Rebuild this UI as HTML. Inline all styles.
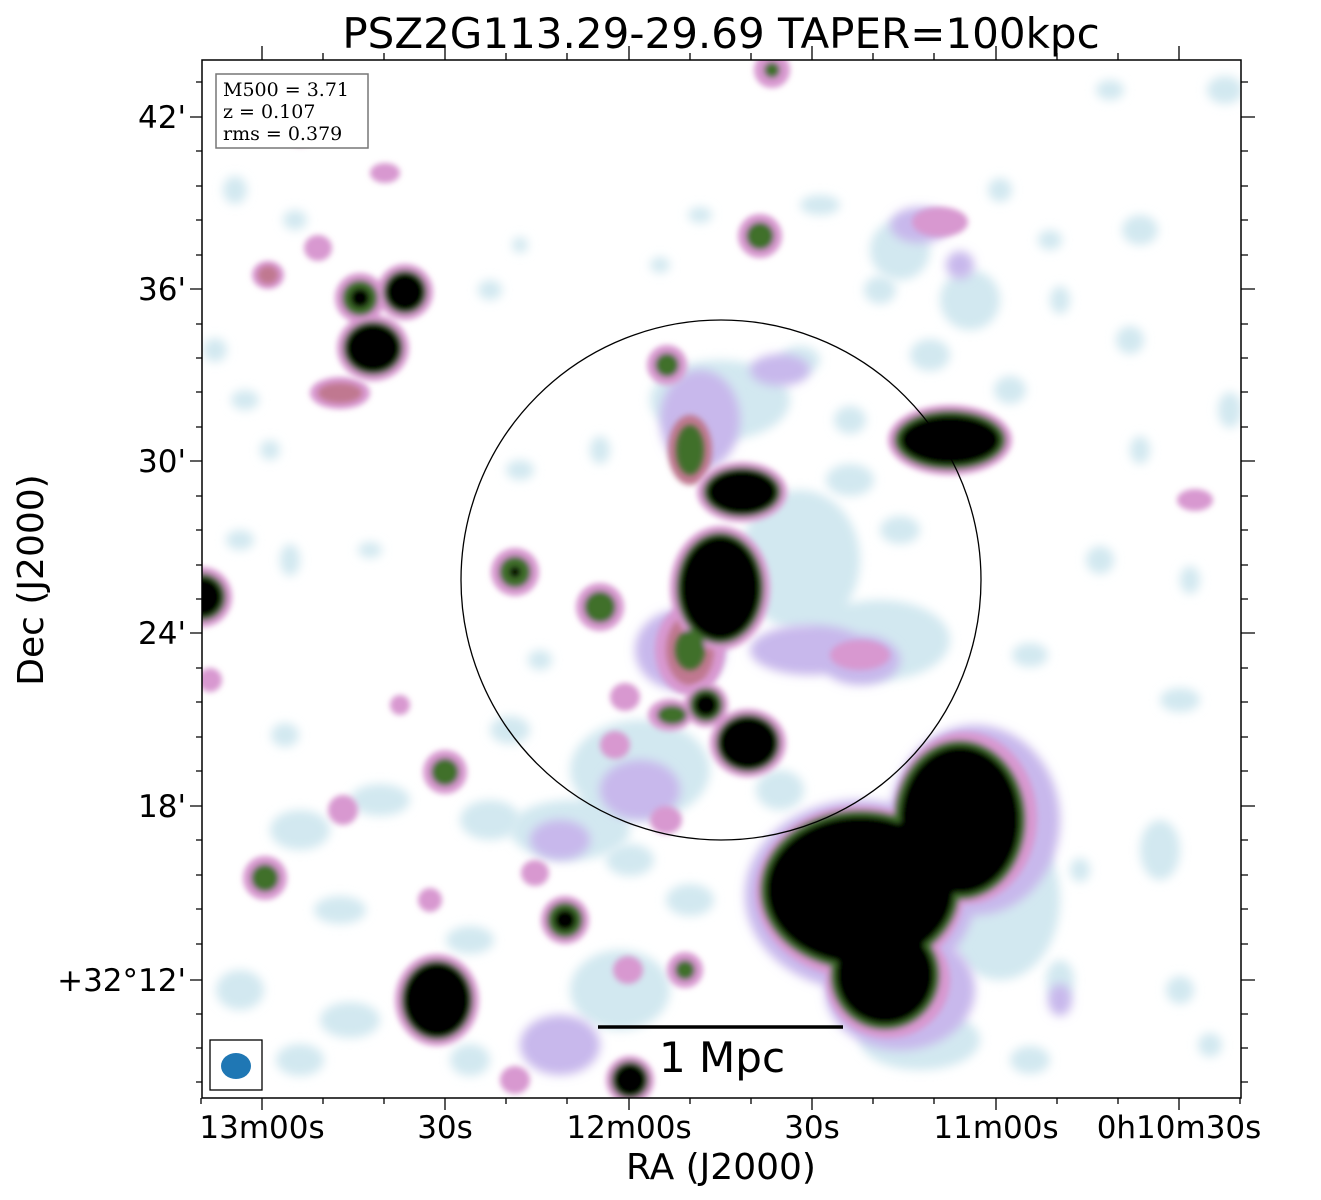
<!DOCTYPE html>
<html><head><meta charset="utf-8"><style>
body{margin:0;background:#fff;}
svg{display:block;font-family:"DejaVu Sans","Liberation Sans",sans-serif;}
</style></head><body>
<svg width="1321" height="1200" viewBox="0 0 1321 1200" xmlns="http://www.w3.org/2000/svg">
<defs>
<filter id="b1" x="-50%" y="-50%" width="200%" height="200%"><feGaussianBlur stdDeviation="5"/></filter>
<filter id="b2" x="-50%" y="-50%" width="200%" height="200%"><feGaussianBlur stdDeviation="3"/></filter>
<clipPath id="c"><rect x="202" y="60" width="1039" height="1038"/></clipPath>
</defs>
<rect width="1321" height="1200" fill="#fff"/>
<g clip-path="url(#c)">
<g filter="url(#b1)" fill="#d2e8f0">
<ellipse cx="820" cy="205" rx="20" ry="10"/><ellipse cx="1000" cy="190" rx="12" ry="12"/><ellipse cx="1140" cy="230" rx="18" ry="15"/>
<ellipse cx="1225" cy="90" rx="18" ry="14"/><ellipse cx="1110" cy="90" rx="14" ry="10"/><ellipse cx="1050" cy="240" rx="12" ry="10"/>
<ellipse cx="1010" cy="390" rx="16" ry="14"/><ellipse cx="1130" cy="340" rx="14" ry="14"/><ellipse cx="1230" cy="410" rx="12" ry="18"/>
<ellipse cx="1140" cy="450" rx="10" ry="14"/><ellipse cx="1100" cy="560" rx="14" ry="14"/><ellipse cx="1190" cy="580" rx="10" ry="14"/>
<ellipse cx="1030" cy="655" rx="18" ry="12"/><ellipse cx="1180" cy="700" rx="20" ry="12"/><ellipse cx="1160" cy="850" rx="20" ry="30"/>
<ellipse cx="1080" cy="870" rx="10" ry="12"/><ellipse cx="1180" cy="990" rx="14" ry="14"/><ellipse cx="1060" cy="980" rx="14" ry="20"/>
<ellipse cx="1030" cy="1060" rx="20" ry="14"/><ellipse cx="1210" cy="1045" rx="12" ry="12"/><ellipse cx="490" cy="290" rx="12" ry="10"/>
<ellipse cx="520" cy="245" rx="8" ry="8"/><ellipse cx="660" cy="265" rx="10" ry="8"/><ellipse cx="700" cy="215" rx="12" ry="8"/>
<ellipse cx="235" cy="190" rx="12" ry="14"/><ellipse cx="295" cy="220" rx="12" ry="10"/><ellipse cx="215" cy="350" rx="12" ry="12"/>
<ellipse cx="245" cy="400" rx="14" ry="10"/><ellipse cx="270" cy="450" rx="10" ry="10"/><ellipse cx="240" cy="540" rx="14" ry="10"/>
<ellipse cx="290" cy="560" rx="10" ry="16"/><ellipse cx="370" cy="550" rx="12" ry="8"/><ellipse cx="285" cy="735" rx="14" ry="12"/>
<ellipse cx="300" cy="830" rx="30" ry="20"/><ellipse cx="380" cy="800" rx="30" ry="16"/><ellipse cx="340" cy="910" rx="26" ry="14"/>
<ellipse cx="240" cy="990" rx="24" ry="20"/><ellipse cx="350" cy="1020" rx="30" ry="18"/><ellipse cx="300" cy="1060" rx="24" ry="16"/>
<ellipse cx="470" cy="1060" rx="20" ry="16"/><ellipse cx="600" cy="450" rx="10" ry="14"/><ellipse cx="520" cy="470" rx="14" ry="10"/>
<ellipse cx="850" cy="480" rx="24" ry="16"/><ellipse cx="900" cy="530" rx="20" ry="14"/><ellipse cx="540" cy="660" rx="12" ry="10"/>
<ellipse cx="510" cy="730" rx="20" ry="14"/><ellipse cx="490" cy="820" rx="30" ry="20"/><ellipse cx="470" cy="940" rx="24" ry="14"/>
<ellipse cx="690" cy="900" rx="24" ry="16"/><ellipse cx="630" cy="860" rx="24" ry="16"/><ellipse cx="780" cy="790" rx="24" ry="20"/>
<ellipse cx="970" cy="300" rx="30" ry="30"/><ellipse cx="930" cy="355" rx="20" ry="16"/><ellipse cx="880" cy="290" rx="16" ry="14"/>
<ellipse cx="800" cy="360" rx="20" ry="14"/><ellipse cx="850" cy="420" rx="16" ry="14"/><ellipse cx="1060" cy="300" rx="10" ry="14"/>
</g>
<g filter="url(#b1)" fill="#d2e8f0">
<ellipse cx="720" cy="400" rx="70" ry="40"/><ellipse cx="800" cy="560" rx="60" ry="70"/><ellipse cx="640" cy="770" rx="70" ry="50"/>
<ellipse cx="880" cy="640" rx="70" ry="40"/><ellipse cx="570" cy="830" rx="60" ry="30"/><ellipse cx="900" cy="250" rx="30" ry="30"/>
<ellipse cx="1000" cy="900" rx="60" ry="80"/><ellipse cx="920" cy="1040" rx="60" ry="30"/><ellipse cx="620" cy="990" rx="50" ry="40"/>
</g>
<g filter="url(#b1)" fill="#c8b8ec">
<ellipse cx="700" cy="420" rx="40" ry="50"/><ellipse cx="780" cy="370" rx="30" ry="16"/><ellipse cx="810" cy="650" rx="60" ry="25"/>
<ellipse cx="680" cy="650" rx="45" ry="40"/><ellipse cx="640" cy="790" rx="40" ry="30"/><ellipse cx="560" cy="840" rx="30" ry="20"/>
<ellipse cx="920" cy="225" rx="30" ry="18"/><ellipse cx="960" cy="265" rx="14" ry="14"/><ellipse cx="560" cy="1045" rx="40" ry="30"/>
<ellipse cx="860" cy="660" rx="40" ry="25"/><ellipse cx="1060" cy="1000" rx="12" ry="16"/>
</g>
<g filter="url(#b2)" fill="#d898d0">
<ellipse cx="690" cy="650" rx="35" ry="45"/><ellipse cx="860" cy="655" rx="30" ry="15"/>
<ellipse cx="340" cy="393" rx="30" ry="16"/><ellipse cx="300" cy="130" rx="16" ry="16"/><ellipse cx="268" cy="275" rx="16" ry="14"/>
<ellipse cx="318" cy="248" rx="14" ry="13"/><ellipse cx="343" cy="810" rx="15" ry="15"/><ellipse cx="515" cy="1080" rx="15" ry="14"/>
<ellipse cx="628" cy="970" rx="15" ry="14"/><ellipse cx="615" cy="745" rx="15" ry="14"/><ellipse cx="625" cy="697" rx="15" ry="14"/>
<ellipse cx="535" cy="873" rx="14" ry="13"/><ellipse cx="430" cy="900" rx="12" ry="12"/><ellipse cx="940" cy="222" rx="28" ry="15"/>
<ellipse cx="1195" cy="500" rx="18" ry="11"/><ellipse cx="385" cy="173" rx="15" ry="10"/><ellipse cx="666" cy="820" rx="16" ry="14"/>
<ellipse cx="400" cy="705" rx="10" ry="10"/><ellipse cx="210" cy="680" rx="12" ry="12"/>
</g>
<g filter="url(#b2)" fill="#c07890">
<ellipse cx="340" cy="393" rx="22" ry="10"/><ellipse cx="300" cy="130" rx="10" ry="10"/><ellipse cx="268" cy="275" rx="10" ry="9"/>
<ellipse cx="690" cy="450" rx="22" ry="35"/><ellipse cx="690" cy="650" rx="24" ry="35"/>
</g>
<g filter="url(#b2)">
<g fill="#d898d0">
<circle cx="772" cy="70" r="18"/><circle cx="760" cy="236" r="22"/><circle cx="360" cy="298" r="25"/><circle cx="405" cy="292" r="28"/>
<ellipse cx="373" cy="348" rx="36" ry="33"/><circle cx="667" cy="365" r="20"/><ellipse cx="742" cy="492" rx="45" ry="30"/>
<circle cx="515" cy="572" r="24"/><circle cx="600" cy="607" r="24"/><ellipse cx="720" cy="588" rx="50" ry="62"/>
<circle cx="202" cy="597" r="30"/><circle cx="706" cy="705" r="22"/><ellipse cx="748" cy="743" rx="38" ry="34"/>
<ellipse cx="670" cy="715" rx="22" ry="16"/><circle cx="445" cy="772" r="22"/><circle cx="265" cy="878" r="22"/>
<circle cx="565" cy="920" r="24"/><ellipse cx="437" cy="1000" rx="42" ry="46"/><circle cx="630" cy="1080" r="24"/><circle cx="685" cy="970" r="18"/>
</g>
<g fill="#3f6f2a">
<circle cx="772" cy="70" r="8"/><circle cx="760" cy="236" r="14"/><circle cx="360" cy="298" r="18"/><circle cx="405" cy="292" r="22"/>
<ellipse cx="373" cy="348" rx="30" ry="27"/><circle cx="667" cy="365" r="12"/><ellipse cx="742" cy="492" rx="39" ry="25"/>
<circle cx="515" cy="572" r="16"/><circle cx="600" cy="607" r="16"/><ellipse cx="720" cy="588" rx="44" ry="56"/>
<circle cx="202" cy="597" r="24"/><circle cx="706" cy="705" r="17"/><ellipse cx="748" cy="743" rx="32" ry="29"/>
<ellipse cx="672" cy="715" rx="15" ry="10"/><circle cx="445" cy="772" r="14"/><circle cx="265" cy="878" r="14"/>
<circle cx="565" cy="920" r="18"/><ellipse cx="437" cy="1000" rx="36" ry="40"/><circle cx="630" cy="1080" r="19"/><circle cx="685" cy="970" r="10"/>
<ellipse cx="690" cy="450" rx="14" ry="25"/><ellipse cx="690" cy="650" rx="15" ry="20"/>
</g>
<g fill="#000">
<circle cx="360" cy="298" r="10"/><circle cx="405" cy="292" r="19"/>
<ellipse cx="373" cy="348" rx="27" ry="24"/><ellipse cx="742" cy="492" rx="35" ry="22"/>
<circle cx="515" cy="572" r="6"/><ellipse cx="720" cy="588" rx="40" ry="52"/>
<circle cx="202" cy="597" r="20"/><circle cx="706" cy="705" r="12"/><ellipse cx="748" cy="743" rx="29" ry="26"/>
<circle cx="565" cy="920" r="11"/><ellipse cx="437" cy="1000" rx="33" ry="37"/><circle cx="630" cy="1080" r="16"/>
</g>
</g>
<g filter="url(#b1)" fill="#c8b8ec">
<ellipse cx="975" cy="820" rx="85" ry="95"/><ellipse cx="860" cy="895" rx="115" ry="95"/><ellipse cx="900" cy="990" rx="75" ry="60"/>
</g>
<g filter="url(#b2)">
<g fill="#d898d0">
<ellipse cx="950" cy="440" rx="62" ry="35"/>
<ellipse cx="965" cy="818" rx="72" ry="86"/><ellipse cx="860" cy="892" rx="104" ry="86"/><ellipse cx="888" cy="980" rx="62" ry="58"/>
</g>
<g fill="#3f6f2a">
<ellipse cx="950" cy="440" rx="56" ry="30"/>
<ellipse cx="960" cy="820" rx="66" ry="80"/><ellipse cx="860" cy="890" rx="100" ry="80"/><ellipse cx="885" cy="975" rx="55" ry="55"/>
</g>
<g fill="#000">
<ellipse cx="950" cy="440" rx="50" ry="25"/>
<ellipse cx="960" cy="820" rx="60" ry="74"/><ellipse cx="860" cy="890" rx="94" ry="74"/><ellipse cx="885" cy="975" rx="49" ry="49"/>
</g>
</g>
<circle cx="721" cy="580" r="260" fill="none" stroke="#000" stroke-width="1.3"/>
</g>
<rect x="202" y="60" width="1039" height="1038" fill="none" stroke="#000" stroke-width="1.5"/>
<g stroke="#000" stroke-width="1.3">
<path d="M190 117H202M190 289H202M190 461H202M190 633H202M190 806H202M190 980H202M1241 117H1255M1241 289H1255M1241 461H1255M1241 633H1255M1241 806H1255M1241 980H1255"/>
<path d="M262 1098V1110M445 1098V1110M629 1098V1110M812 1098V1110M996 1098V1110M1179 1098V1110M262 46V60M445 46V60M629 46V60M812 46V60M996 46V60M1179 46V60"/>
<path d="M196 82H202M196 151H202M196 186H202M196 220H202M196 255H202M196 324H202M196 358H202M196 392H202M196 427H202M196 496H202M196 530H202M196 565H202M196 599H202M196 668H202M196 702H202M196 737H202M196 771H202M196 840H202M196 875H202M196 909H202M196 944H202M196 1014H202M196 1048H202M196 1082H202
M1241 82H1248M1241 151H1248M1241 186H1248M1241 220H1248M1241 255H1248M1241 324H1248M1241 358H1248M1241 392H1248M1241 427H1248M1241 496H1248M1241 530H1248M1241 565H1248M1241 599H1248M1241 668H1248M1241 702H1248M1241 737H1248M1241 771H1248M1241 840H1248M1241 875H1248M1241 909H1248M1241 944H1248M1241 1014H1248M1241 1048H1248M1241 1082H1248"/>
<path d="M323 1098V1104M384 1098V1104M506 1098V1104M567 1098V1104M690 1098V1104M751 1098V1104M873 1098V1104M934 1098V1104M1057 1098V1104M1118 1098V1104M1240 1098V1104M201 1098V1104
M323 53V60M384 53V60M506 53V60M567 53V60M690 53V60M751 53V60M873 53V60M934 53V60M1057 53V60M1118 53V60"/>
</g>
<g font-size="31" fill="#000">
<text x="186" y="128" text-anchor="end">42'</text>
<text x="186" y="300" text-anchor="end">36'</text>
<text x="186" y="472" text-anchor="end">30'</text>
<text x="186" y="644" text-anchor="end">24'</text>
<text x="186" y="817" text-anchor="end">18'</text>
<text x="186" y="991" text-anchor="end">+32°12'</text>
<g text-anchor="middle">
<text x="262" y="1138">13m00s</text><text x="445" y="1138">30s</text><text x="629" y="1138">12m00s</text>
<text x="812" y="1138">30s</text><text x="996" y="1138">11m00s</text><text x="1179" y="1138">0h10m30s</text>
</g>
</g>
<text x="721" y="1179" font-size="36" text-anchor="middle">RA (J2000)</text>
<text transform="translate(43,580) rotate(-90)" font-size="36" text-anchor="middle">Dec (J2000)</text>
<text x="721" y="48" font-size="42" text-anchor="middle">PSZ2G113.29-29.69 TAPER=100kpc</text>
<rect x="216" y="74" width="152" height="74" fill="#fff" stroke="#777" stroke-width="1.5"/>
<g font-family="'DejaVu Serif','Liberation Serif',serif" font-size="19">
<text x="223" y="96">M500 = 3.71</text><text x="223" y="118">z = 0.107</text><text x="223" y="140">rms = 0.379</text>
</g>
<line x1="598" y1="1027" x2="843" y2="1027" stroke="#000" stroke-width="3.5"/>
<text x="722" y="1072" font-size="42" text-anchor="middle">1 Mpc</text>
<rect x="210" y="1040" width="52" height="50" fill="#fff" stroke="#000" stroke-width="1.3"/>
<ellipse cx="236" cy="1066" rx="15" ry="13" fill="#1f77b4"/>
</svg>
</body></html>
